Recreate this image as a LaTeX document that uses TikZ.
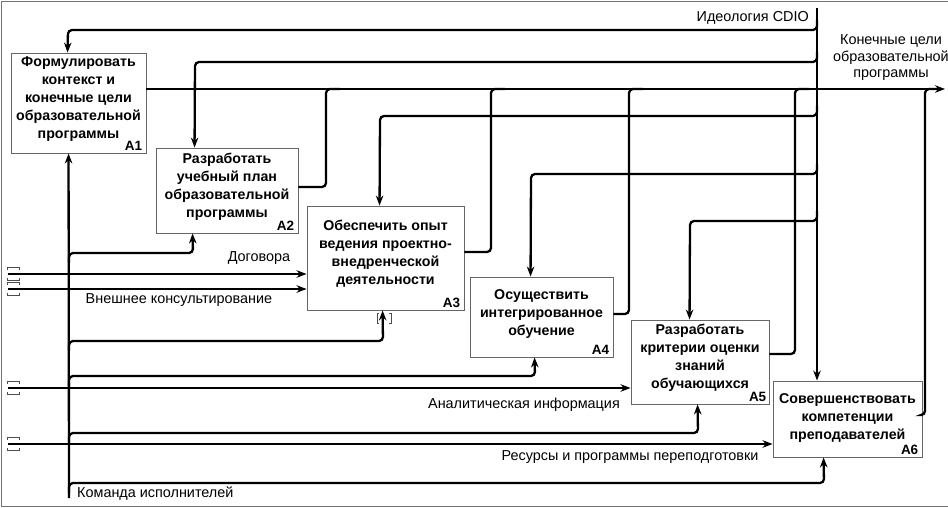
\documentclass[tikz,border=0pt]{standalone}
\usepackage{fontspec}
\setmainfont{Liberation Sans}
\usetikzlibrary{arrows.meta}
\begin{document}
\begin{tikzpicture}[x=1pt,y=-1pt,
  box/.style={draw=black!60, line width=0.9pt, fill=white, inner sep=0pt},
  btxt/.style={font=\bfseries\fontsize{14.2}{18}\selectfont, align=center, inner sep=0pt},
  anum/.style={font=\bfseries\fontsize{13.5}{13.5}\selectfont, anchor=south east, inner sep=0pt},
  lbl/.style={font=\fontsize{14.4}{16.5}\selectfont, inner sep=0pt, align=center},
  conn/.style={line width=2.3pt, rounded corners=4pt},
  arr/.style={conn, -{Stealth[length=10pt,width=7.5pt]}},
  inarr/.style={line width=2pt, -{Stealth[length=10pt,width=7.5pt]}},
  brk/.style={line width=0.8pt, black!70},
  frame/.style={line width=0.8pt, black!55}
]
\useasboundingbox (0,0) rectangle (948,508);
\draw[frame] (948,1) -- (1,1) -- (1,506) -- (948,506);

% boxes
\node[box, minimum width=135pt, minimum height=100pt] (a1) at (78.5,103) {};
\node[box, minimum width=142pt, minimum height=85pt] (a2) at (227,190.5) {};
\node[box, minimum width=157pt, minimum height=104pt] (a3) at (385.5,258) {};
\node[box, minimum width=143pt, minimum height=80pt] (a4) at (541.5,317) {};
\node[box, minimum width=138pt, minimum height=84pt] (a5) at (700,362) {};
\node[box, minimum width=149pt, minimum height=76pt] (a6) at (847.5,419) {};

\node[btxt] (a1t) at ([yshift=4pt]a1.center) {Формулировать\\контекст и\\конечные цели\\образовательной\\программы};
\node[btxt] (a2t) at ([yshift=3.5pt]a2.center) {Разработать\\учебный план\\образовательной\\программы};
\node[btxt] (a3t) at ([yshift=4pt]a3.center) {Обеспечить опыт\\ведения проектно-\\внедренческой\\деятельности};
\node[btxt] (a4t) at ([yshift=3pt]a4.center) {Осуществить\\интегрированное\\обучение};
\node[btxt] (a5t) at ([yshift=4pt]a5.center) {Разработать\\критерии оценки\\знаний\\обучающихся};
\node[btxt] (a6t) at ([yshift=1pt]a6.center) {Совершенствовать\\компетенции\\преподавателей};

\node[anum] (a1n) at ([xshift=-4pt,yshift=3pt]a1.south east) {A1};
\node[anum] (a2n) at ([xshift=-4pt,yshift=3pt]a2.south east) {A2};
\node[anum] (a3n) at ([xshift=-4pt,yshift=3pt]a3.south east) {A3};
\node[anum] (a4n) at ([xshift=-4pt,yshift=3pt]a4.south east) {A4};
\node[anum] (a5n) at ([xshift=-3pt,yshift=3pt]a5.south east) {A5};
\node[anum] (a6n) at ([xshift=-4pt,yshift=3pt]a6.south east) {A6};

% controls
\coordinate (cs) at (817,8);
\draw[arr] (cs) -- (cs |- a6.north);
\coordinate (c1) at (817,20);
\coordinate (c2) at (817,52);
\coordinate (c3) at (817,106);
\coordinate (c4) at (817,164);
\coordinate (c5) at (817,211);
\draw[arr] (c1) -- (817,30) -- (68,30) -- ([xshift=57pt]a1.north west);
\draw[arr] (c2) -- (817,62) -- (195,62) -- ([xshift=39pt]a2.north west);
\draw[arr] (c3) -- (817,116) -- (380,116) -- ([xshift=73pt]a3.north west);
\draw[arr] (c4) -- (817,174) -- (531,174) -- ([xshift=61pt]a4.north west);
\draw[arr] (c5) -- (817,221) -- (690,221) -- ([xshift=59pt]a5.north west);
\node[lbl, anchor=east] (lcdio) at (809,17.5) {Идеология CDIO};

% outputs
\coordinate (out) at (945,89);
\draw[arr] ([yshift=14pt]a1.east) -- (out);
\draw[conn] ([yshift=3.5pt]a2.east) -- (326,187) -- (326,89) -- (340,89);
\draw[conn] ([yshift=6pt]a3.east) -- (491,252) -- (491,89) -- (505,89);
\draw[conn] ([yshift=3pt]a4.east) -- (629,314) -- (629,89) -- (643,89);
\draw[conn] ([yshift=8pt]a5.east) -- (795,354) -- (795,89) -- (809,89);
\draw[conn] ([yshift=4pt]a6.east) -- (925,415) -- (925,89) -- (939,89);
\node[lbl] (lout) at (891,58) {Конечные цели\\образовательной\\программы};

% mechanisms
\coordinate (ms) at (69,498);
\draw[arr] (ms) -- ([xshift=58pt]a1.south west);
\coordinate (m2) at (69,263);
\coordinate (m3) at (69,351);
\coordinate (m4) at (69,386);
\coordinate (m5) at (69,443);
\coordinate (m6) at (69,493);
\draw[arr] (m2) -- (69,253) -- (193,253) -- ([xshift=37pt]a2.south west);
\draw[arr] (m3) -- (69,341) -- (383,341) -- ([xshift=76pt]a3.south west);
\draw[arr] (m4) -- (69,376) -- (535,376) -- ([xshift=65pt]a4.south west);
\draw[arr] (m5) -- (69,433) -- (698,433) -- ([xshift=67pt]a5.south west);
\draw[arr] (m6) -- (69,483) -- (824,483) -- ([xshift=51pt]a6.south west);
\node[lbl, anchor=west] (lteam) at (77,494) {Команда исполнителей};
% tunnel marks at A3 bottom
\draw[brk] (379,313) -- (377,313) -- (377,323) -- (379,323);
\draw[brk] (389,313) -- (391,313) -- (391,323) -- (389,323);

% inputs
\coordinate (i1) at (8,274);
\coordinate (i2) at (8,289);
\coordinate (i3) at (8,388);
\coordinate (i4) at (8,444);
\draw[inarr] (i1) -- ([yshift=-16pt]a3.west);
\draw[inarr] (i2) -- ([yshift=-31pt]a3.west);
\draw[inarr] (i3) -- ([yshift=-26pt]a5.west);
\draw[inarr] (i4) -- ([yshift=-25pt]a6.west);
\foreach \yy in {274,289,388,444} {
  \draw[brk] (7,\yy-4) -- (7,\yy-6.5) -- (19,\yy-6.5) -- (19,\yy-4);
  \draw[brk] (7,\yy+4) -- (7,\yy+6.5) -- (19,\yy+6.5) -- (19,\yy+4);
}
\node[lbl] (ldog) at (259,258) {Договора};
\node[lbl] (lvk) at (179,300) {Внешнее консультирование};
\node[lbl] (lai) at (524,405) {Аналитическая информация};
\node[lbl] (lres) at (630,457) {Ресурсы и программы переподготовки};
\end{tikzpicture}
\end{document}
